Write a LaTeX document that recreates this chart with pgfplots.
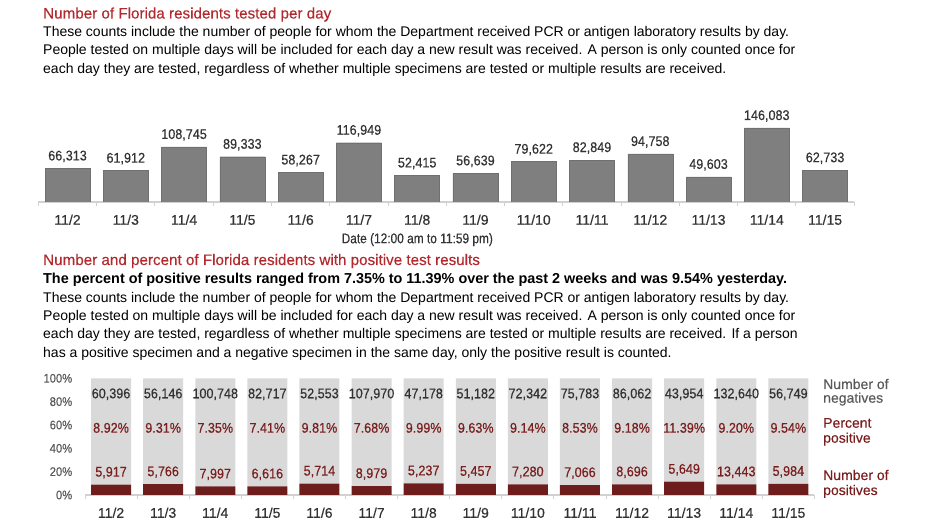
\documentclass[border=0pt]{standalone}
\usepackage{pgfplots}
\pgfplotsset{compat=1.18}
\usepackage{pgfplotstable}
\usepackage{fontspec}
\setmainfont{Liberation Sans}
\newfontfamily\numfont{Liberation Sans}[FakeStretch=0.9, FakeBold=0.4]
\newfontfamily\tickfont{Liberation Sans}[FakeBold=0.4]
\newfontfamily\condfont{Liberation Sans}[FakeStretch=0.85, FakeBold=0.3]
\newfontfamily\headfont{Liberation Sans}[FakeBold=0.3]

\definecolor{titlered}{HTML}{B22A2E}
\definecolor{barred}{HTML}{6E1D1D}
\definecolor{labred}{HTML}{7A1E1E}
\definecolor{bargray}{HTML}{7F7F7F}
\definecolor{lightbar}{HTML}{D9D9D9}
\definecolor{txtgray}{HTML}{333333}
\definecolor{axgray}{HTML}{595959}

\newcommand\nf{\numfont\fontsize{14bp}{16bp}\selectfont}
\newcommand\tf{\tickfont\fontsize{14bp}{16bp}\selectfont}
\newcommand\bodyf{\fontsize{14bp}{18bp}\selectfont}

% people tested per day
\pgfplotstableread{
x day total
0 11/2 66313
1 11/3 61912
2 11/4 108745
3 11/5 89333
4 11/6 58267
5 11/7 116949
6 11/8 52415
7 11/9 56639
8 11/10 79622
9 11/11 82849
10 11/12 94758
11 11/13 49603
12 11/14 146083
13 11/15 62733
}\tested

% positives / negatives per day
\pgfplotstableread{
x day pos neg pct negpct
0 11/2 5917 60396 8.92 91.08
1 11/3 5766 56146 9.31 90.69
2 11/4 7997 100748 7.35 92.65
3 11/5 6616 82717 7.41 92.59
4 11/6 5714 52553 9.81 90.19
5 11/7 8979 107970 7.68 92.32
6 11/8 5237 47178 9.99 90.01
7 11/9 5457 51182 9.63 90.37
8 11/10 7280 72342 9.14 90.86
9 11/11 7066 75783 8.53 91.47
10 11/12 8696 86062 9.18 90.82
11 11/13 5649 43954 11.39 88.61
12 11/14 13443 132640 9.20 90.80
13 11/15 5984 56749 9.54 90.46
}\positives

\pgfplotsset{
  daybars/.style={
    scale only axis,
    xmin=-0.5, xmax=13.5, ymin=0,
    xtick={0,...,13},
    major x tick style={draw=none},
    minor xtick={-0.5,0.5,...,13.5},
    minor x tick style={draw=black!18, line width=0.9bp},
    minor tick length=4bp, tick align=outside,
    axis x line*=bottom,
    x axis line style={-, draw=black!18, line width=1.2bp},
    xticklabel style={font=\tf, text=txtgray, anchor=base, yshift=-18.5bp},
    /pgf/number format/assume math mode=true,
  },
}

\begin{document}
\begin{tikzpicture}
\path[use as bounding box] (0,0) rectangle (932bp,524bp);

% ---- texts, top chart
\node[anchor=base west, inner sep=0, text=titlered, font=\headfont\fontsize{15.2bp}{18bp}\selectfont] at (43bp,505.5bp) {Number of Florida residents tested per day};
\begin{scope}[every node/.style={anchor=base west, inner sep=0, font=\bodyf}]
\node at (43bp,487.3bp) {These counts include the number of people for whom the Department received PCR or antigen laboratory results by day.};
\node at (43bp,469bp) {People tested on multiple days will be included for each day a new result was received. A person is only counted once for};
\node at (43bp,450.7bp) {each day they are tested, regardless of whether multiple specimens are tested or multiple results are received.};
\end{scope}

\begin{axis}[daybars,
  at={(38.4bp,322bp)}, anchor=south west,
  width=815.8bp, height=92bp, ymax=181600,
  ybar, bar width=45bp,
  axis y line=none,
  xticklabels from table={\tested}{day},
  xlabel={Date (12:00 am to 11:59 pm)},
  xlabel style={font=\condfont\fontsize{14bp}{16bp}\selectfont, text=txtgray, anchor=base, at={(ticklabel cs:0.5)}, xshift=-29bp, yshift=-15bp},
  nodes near coords,
  every node near coord/.append style={font=\nf, text=txtgray, anchor=base, yshift=8bp},
  /pgf/number format/fixed, /pgf/number format/precision=0,
  /pgf/number format/1000 sep={,},
]
\addplot[fill=bargray, draw=bargray!88!black] table[x=x, y=total]{\tested};
\end{axis}

% ---- texts, bottom chart
\node[anchor=base west, inner sep=0, text=titlered, font=\headfont\fontsize{15.2bp}{18bp}\selectfont] at (43bp,259bp) {Number and percent of Florida residents with positive test results};
\node[anchor=base west, inner sep=0, font=\fontsize{14.4bp}{18bp}\selectfont\bfseries] at (43bp,240bp) {The percent of positive results ranged from 7.35\% to 11.39\% over the past 2 weeks and was 9.54\% yesterday.};
\begin{scope}[every node/.style={anchor=base west, inner sep=0, font=\bodyf}]
\node at (43bp,221.7bp) {These counts include the number of people for whom the Department received PCR or antigen laboratory results by day.};
\node at (43bp,203.3bp) {People tested on multiple days will be included for each day a new result was received. A person is only counted once for};
\node at (43bp,185bp) {each day they are tested, regardless of whether multiple specimens are tested or multiple results are received. If a person};
\node at (43bp,166.7bp) {has a positive specimen and a negative specimen in the same day, only the positive result is counted.};
\end{scope}

\begin{axis}[daybars,
  at={(85bp,29bp)}, anchor=south west,
  width=729.4bp, height=116.7bp, ymax=100,
  ybar stacked, bar width=40bp,
  axis y line*=left, y axis line style={draw=none},
  major y tick style={draw=none},
  ytick={0,20,...,100},
  yticklabel={\pgfmathprintnumber{\tick}\%},
  yticklabel style={font=\numfont\fontsize{12.5bp}{14bp}\selectfont, text=axgray, xshift=-5bp},
  xticklabels from table={\positives}{day},
]
\addplot[fill=barred, draw=none] table[x=x, y=pct]{\positives};
\addplot[fill=lightbar, draw=none] table[x=x, y=negpct]{\positives};
\end{axis}

% labels over the bottom bars
\begin{axis}[
  at={(85bp,29bp)}, anchor=south west,
  scale only axis, width=729.4bp, height=116.7bp,
  xmin=-0.5, xmax=13.5, ymin=0, ymax=100,
  hide axis, clip=false,
  every node near coord/.append style={font=\nf, anchor=base},
  /pgf/number format/assume math mode=true,
]
\addplot[draw=none, mark=none, nodes near coords={\pgfmathprintnumber[fixed,precision=0,1000 sep={,}]{\pgfplotspointmeta}},
  point meta=explicit, every node near coord/.append style={text=txtgray}]
  table[x=x, y expr=82.9, meta=neg]{\positives};
\addplot[draw=none, mark=none, nodes near coords={\pgfmathprintnumber[fixed,fixed zerofill,precision=2]{\pgfplotspointmeta}\%},
  point meta=explicit, every node near coord/.append style={text=labred}]
  table[x=x, y expr=53.4, meta=pct]{\positives};
\addplot[draw=none, mark=none, nodes near coords={\pgfmathprintnumber[fixed,precision=0,1000 sep={,}]{\pgfplotspointmeta}},
  point meta=explicit, every node near coord/.append style={text=labred, yshift=8bp}]
  table[x=x, y=pct, meta=pos]{\positives};
\end{axis}

% right-hand labels
\begin{scope}[every node/.style={anchor=base west, inner sep=0, font=\headfont\fontsize{14bp}{16bp}\selectfont}]
\node[text=axgray] at (823bp,135bp) {Number of};
\node[text=axgray] at (823bp,121.3bp) {negatives};
\node[text=labred] at (823bp,96.3bp) {Percent};
\node[text=labred] at (823bp,81.3bp) {positive};
\node[text=labred] at (823bp,44bp) {Number of};
\node[text=labred] at (823bp,29bp) {positives};
\end{scope}
\end{tikzpicture}
\end{document}
